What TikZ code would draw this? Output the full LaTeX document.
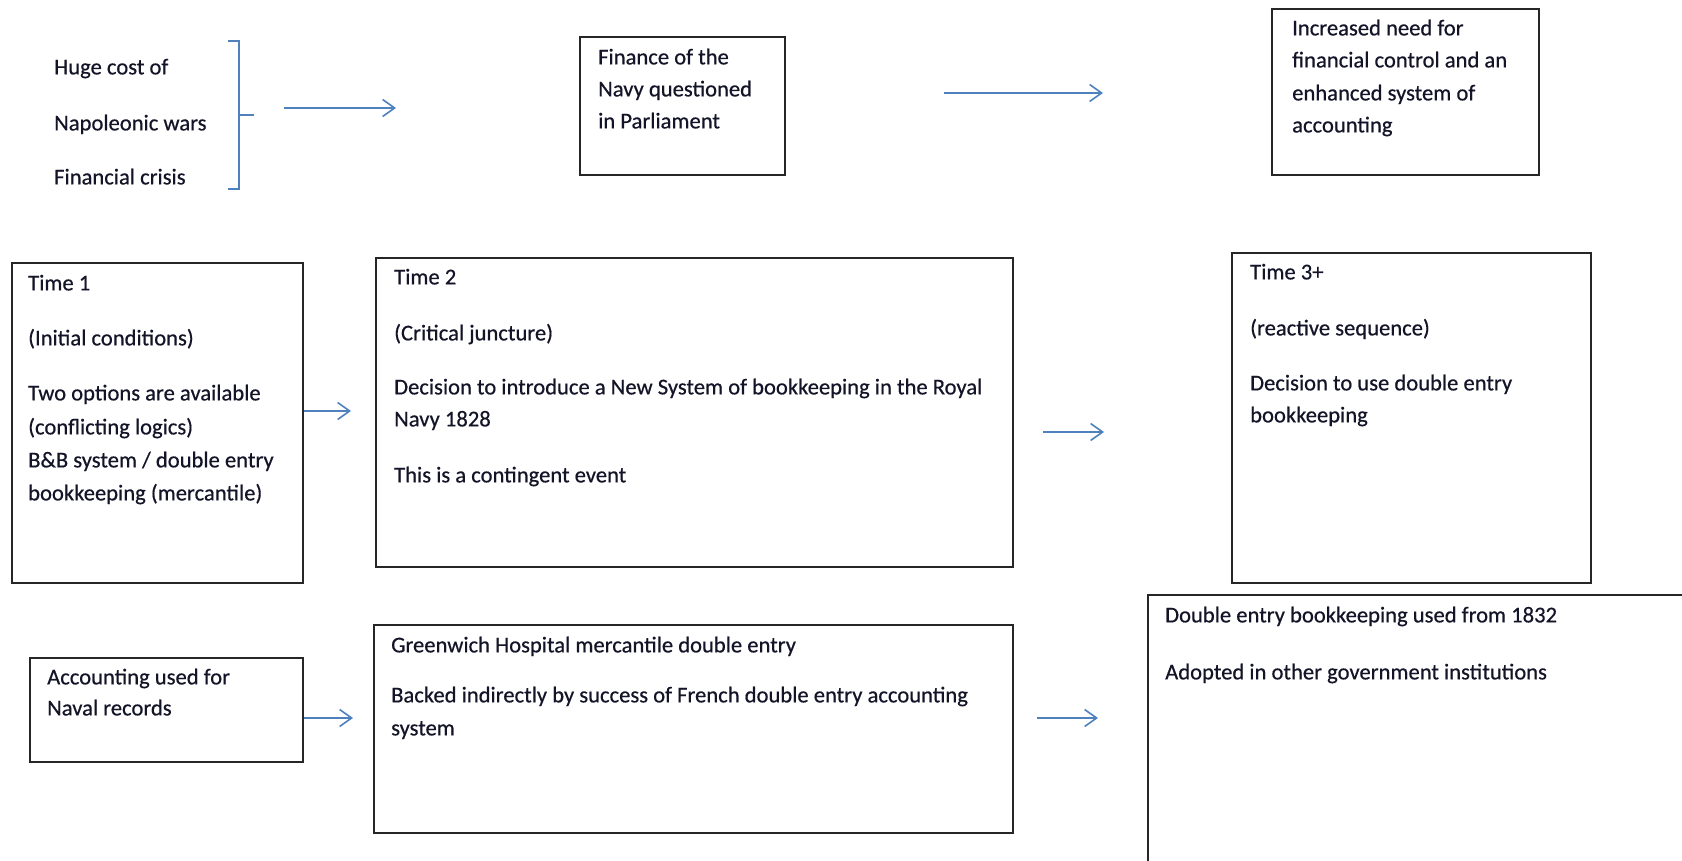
\documentclass[tikz,border=0pt]{standalone}
\usepackage{fontspec}
\setmainfont{Carlito}
\newfontfamily\diafont[FakeBold=0.5]{Carlito}
\usetikzlibrary{arrows.meta,fit}
\definecolor{arrowblue}{HTML}{4F81BD}
\definecolor{inktext}{HTML}{141428}
\tikzset{
  box/.style={draw=black!85, line width=1.7pt, inner sep=0pt},
  txt/.style={anchor=mid west, inner sep=0pt, font=\diafont\fontsize{22.6pt}{32pt}\selectfont, text=inktext},
  flow/.style={draw=arrowblue, line width=1.6pt, -{Straight Barb[length=12pt,width=17pt,line width=1.6pt]}},
  brace/.style={draw=arrowblue, line width=1.6pt}
}
\begin{document}
\begin{tikzpicture}[x=1pt,y=-1pt]
\clip (0,0) rectangle (1682,861);
\fill[white] (0,0) rectangle (1682,861);

% ---- top row ----
\node[txt] (c1) at (54,72) {Huge cost of};
\node[txt] (c2) at (54,128) {Napoleonic wars};
\node[txt] (c3) at (54,182) {Financial crisis};
\coordinate (brT) at (239,41);
\coordinate (brB) at (239,189);
\coordinate (brM) at (239,115);
\draw[brace] ([xshift=-11pt]brT) -- (brT) -- (brB) -- ([xshift=-11pt]brB);
\draw[brace] (brM) -- ([xshift=15pt]brM);

\node[box, fit={(580,37)(785,175)}] (fin) {};
\node[txt] (fin1) at (598,62) {Finance of the};
\node[txt] (fin2) at (598,94) {Navy questioned};
\node[txt] (fin3) at (598,126) {in Parliament};

\node[box, fit={(1272,9)(1539,175)}] (inc) {};
\node[txt] (inc1) at (1292,33) {Increased need for};
\node[txt] (inc2) at (1292,65) {financial control and an};
\node[txt] (inc3) at (1292,98) {enhanced system of};
\node[txt] (inc4) at (1292,130) {accounting};

\coordinate (a1s) at (284,108);
\coordinate (a1e) at (396,108);
\draw[flow] (a1s) -- (a1e);
\coordinate (a2s) at (944,93);
\coordinate (a2e) at (1103,93);
\draw[flow] (a2s) -- (a2e);

% ---- middle row ----
\node[box, fit={(12,263)(303,583)}] (t1) {};
\node[txt] (t1a) at (28,288) {Time 1};
\node[txt] (t1b) at (28,343) {(Initial conditions)};
\node[txt] (t1c) at (28,398) {Two options are available};
\node[txt] (t1d) at (28,432) {(conflicting logics)};
\node[txt] (t1e) at (28,465) {B\&B system / double entry};
\node[txt] (t1f) at (28,498) {bookkeeping (mercantile)};

\node[box, fit={(376,258)(1013,567)}] (t2) {};
\node[txt] (t2a) at (394,282) {Time 2};
\node[txt] (t2b) at (394,338) {(Critical juncture)};
\node[txt] (t2c) at (394,392) {Decision to introduce a New System of bookkeeping in the Royal};
\node[txt] (t2d) at (394,424) {Navy 1828};
\node[txt] (t2e) at (394,480) {This is a contingent event};

\node[box, fit={(1232,253)(1591,583)}] (t3) {};
\node[txt] (t3a) at (1250,277) {Time 3+};
\node[txt] (t3b) at (1250,333) {(reactive sequence)};
\node[txt] (t3c) at (1250,388) {Decision to use double entry};
\node[txt] (t3d) at (1250,420) {bookkeeping};

\coordinate (a3e) at (351,411);
\draw[flow] (t1.east |- a3e) -- (a3e);
\coordinate (a4s) at (1043,432);
\coordinate (a4e) at (1104,432);
\draw[flow] (a4s) -- (a4e);

% ---- bottom row ----
\node[box, fit={(30,658)(303,762)}] (acc) {};
\node[txt] (acc1) at (47,682) {Accounting used for};
\node[txt] (acc2) at (47,713) {Naval records};

\node[box, fit={(374,625)(1013,833)}] (grn) {};
\node[txt] (grn1) at (391,650) {Greenwich Hospital mercantile double entry};
\node[txt] (grn2) at (391,700) {Backed indirectly by success of French double entry accounting};
\node[txt] (grn3) at (391,733) {system};

\node[box, fit={(1148,595)(1720,900)}] (dbl) {};
\node[txt] (dbl1) at (1165,620) {Double entry bookkeeping used from 1832};
\node[txt] (dbl2) at (1165,677) {Adopted in other government institutions};

\coordinate (a5e) at (353,718);
\draw[flow] (acc.east |- a5e) -- (a5e);
\coordinate (a6s) at (1037,718);
\coordinate (a6e) at (1098,718);
\draw[flow] (a6s) -- (a6e);
\end{tikzpicture}
\end{document}
